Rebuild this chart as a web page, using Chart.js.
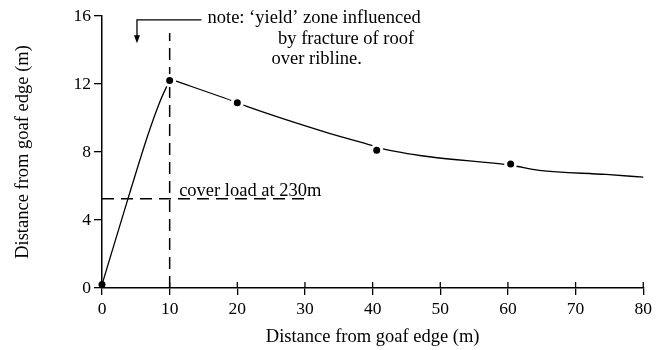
<!DOCTYPE html>
<html>
<head>
<meta charset="utf-8">
<script src="https://cdn.jsdelivr.net/npm/chart.js@4.4.1/dist/chart.umd.min.js"></script>
<style>
  html, body { margin: 0; padding: 0; background: #fff; }
  #wrap { width: 656px; height: 350px; }
</style>
</head>
<body>
<div id="wrap"><canvas id="yieldChart"></canvas></div>
<script>
// measured points (black dots)
var pointX = [0, 10, 20, 40.6, 60.4];
var pointY = [0.2, 12.2, 10.9, 8.1, 7.3];

// hand-drawn curve: rising limb and falling limb
var riseX = [0, 3.8, 6.7, 8.5, 9.5, 10];
var riseY = [0.2, 5.2, 8.9, 10.9, 11.8, 12.2];
var fallX = [10, 20, 21.3, 33.6, 40, 41.2, 48.4, 60.4, 64.6, 74.5, 80];
var fallY = [12.3, 10.9, 10.7, 9.1, 8.37, 8.22, 7.72, 7.22, 6.92, 6.68, 6.52];

// dashed guide lines
var yieldLineX = [10, 10];
var yieldLineY = [0, 15];
var coverLoadX = [0, 30];
var coverLoadY = [5.25, 5.25];

var xTicks = [0, 10, 20, 30, 40, 50, 60, 70, 80];
var yTicks = [0, 4, 8, 12, 16];

var serif = "'Liberation Serif', 'Times New Roman', serif";

function pairs(xs, ys) {
  return xs.map(function(x, i) { return { x: x, y: ys[i] }; });
}

function curve(label, xs, ys) {
  return {
    label: label,
    data: pairs(xs, ys),
    showLine: true,
    borderColor: '#000',
    borderWidth: 1.3,
    pointRadius: 0,
    cubicInterpolationMode: 'monotone',
    clip: false
  };
}

function dashed(label, xs, ys) {
  return {
    label: label,
    data: pairs(xs, ys),
    showLine: true,
    borderColor: '#000',
    borderWidth: 1.5,
    borderDash: [12, 7],
    pointRadius: 0,
    clip: false
  };
}

var notes = {
  id: 'notes',
  beforeDraw: function(chart) {
    var ctx = chart.ctx;
    ctx.save();
    ctx.fillStyle = '#fff';
    ctx.fillRect(0, 0, chart.width, chart.height);
    ctx.restore();
  },
  afterDraw: function(chart) {
    var ctx = chart.ctx;
    var xs = chart.scales.x, ys = chart.scales.y;
    ctx.save();
    ctx.strokeStyle = '#000';
    ctx.fillStyle = '#000';

    // inner half of x ticks (they cross the axis)
    ctx.lineWidth = 1.3;
    var base = ys.getPixelForValue(0);
    xTicks.forEach(function(v) {
      var px = xs.getPixelForValue(v);
      ctx.beginPath();
      ctx.moveTo(px, base);
      ctx.lineTo(px, base - 6);
      ctx.stroke();
    });

    // arrow from the note
    var ax = xs.getPixelForValue(5.17);
    var ay = ys.getPixelForValue(15.77);
    var tipY = ys.getPixelForValue(14.4);
    ctx.beginPath();
    ctx.moveTo(xs.getPixelForValue(14.7), ay);
    ctx.lineTo(ax, ay);
    ctx.lineTo(ax, tipY - 6);
    ctx.stroke();
    ctx.beginPath();
    ctx.moveTo(ax - 3, tipY - 8);
    ctx.lineTo(ax + 3, tipY - 8);
    ctx.lineTo(ax, tipY);
    ctx.closePath();
    ctx.fill();

    // text
    ctx.font = '18.5px ' + serif;
    ctx.textAlign = 'left';
    ctx.textBaseline = 'alphabetic';
    ctx.fillText('note: \u2018yield\u2019 zone influenced', 207.5, 23);
    ctx.fillText('by fracture of roof', 278, 43.5);
    ctx.fillText('over ribline.', 271.5, 63.5);
    ctx.fillText('cover load at 230m', xs.getPixelForValue(11.4), 195.5);
    ctx.restore();
  }
};

var ctx = document.getElementById('yieldChart');
var myChart = new Chart(ctx, {
  type: 'scatter',
  data: {
    datasets: [
      {
        label: 'points',
        data: pairs(pointX, pointY),
        showLine: false,
        pointRadius: [3.5, 5, 5, 5, 5],
        pointBorderWidth: [0, 3, 3, 3, 3],
        pointBackgroundColor: '#000',
        pointBorderColor: '#fff',
        clip: false
      },
      curve('rise', riseX, riseY),
      curve('fall', fallX, fallY),
      dashed('yield', yieldLineX, yieldLineY),
      dashed('cover', coverLoadX, coverLoadY)
    ]
  },
  options: {
    responsive: true,
    maintainAspectRatio: false,
    animation: false,
    layout: { padding: { top: 16, right: 12, left: 0, bottom: 0 } },
    plugins: { legend: { display: false }, tooltip: { enabled: false } },
    scales: {
      x: {
        type: 'linear',
        min: 0, max: 80,
        afterFit: function(s) { s.height = 62; },
        afterBuildTicks: function(s) { s.ticks = xTicks.map(function(v) { return { value: v }; }); },
        grid: { drawOnChartArea: false, color: '#000', lineWidth: 1.3, tickLength: 7 },
        border: { color: '#000', width: 1.5 },
        ticks: { color: '#000', padding: 4, font: { family: serif, size: 17.5 } },
        title: {
          display: true, text: 'Distance from goaf edge (m)', color: '#000',
          font: { family: serif, size: 18.5 }, padding: { top: 0, bottom: 1.5 }
        }
      },
      y: {
        type: 'linear',
        min: 0, max: 16,
        afterFit: function(s) { s.width = 102; },
        afterBuildTicks: function(s) { s.ticks = yTicks.map(function(v) { return { value: v }; }); },
        grid: { drawOnChartArea: false, color: '#000', lineWidth: 1.3, tickLength: 8 },
        border: { color: '#000', width: 1.5 },
        ticks: { color: '#000', padding: 3, font: { family: serif, size: 17.5 } },
        title: {
          display: true, text: 'Distance from goaf edge (m)', color: '#000',
          font: { family: serif, size: 18.5 }, padding: { top: 12, bottom: 0 }
        }
      }
    }
  },
  plugins: [notes]
});
</script>
</body>
</html>
